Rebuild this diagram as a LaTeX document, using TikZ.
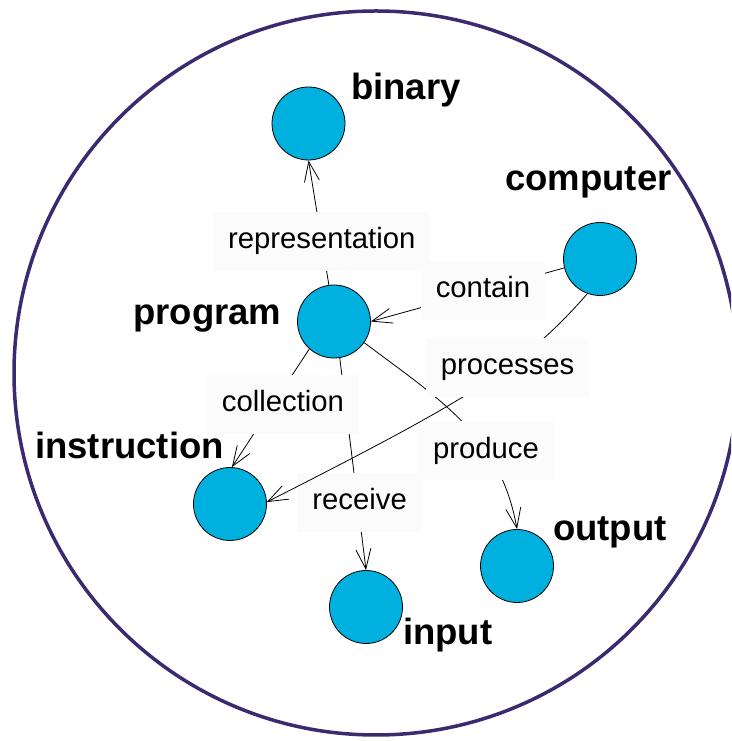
\documentclass[tikz,border=0pt]{standalone}
\usepackage{fontspec}
\setmainfont{Liberation Sans}
\usetikzlibrary{arrows.meta}
\definecolor{ringcol}{RGB}{59,42,112}
\definecolor{nodeblue}{RGB}{0,176,222}
\definecolor{lblfill}{RGB}{251,251,251}
\begin{document}
\begin{tikzpicture}[x=1pt,y=1pt,
  concept/.style={circle, draw=black, line width=0.8pt, fill=nodeblue, minimum size=73pt, inner sep=0pt},
  title/.style={anchor=base west, font=\fontsize{36.5}{44}\selectfont\bfseries, inner sep=0pt},
  lbl/.style={fill=lblfill, font=\fontsize{29.3}{34}\selectfont, text height=21pt, text depth=6pt, inner xsep=15pt, inner ysep=16pt},
  link/.style={line width=0.8pt, -{Straight Barb[length=20pt,width=15pt]}}]
\clip (0,0) rectangle (731,741);
\fill[white] (0,0) rectangle (731,741);
\draw[ringcol, line width=3.5pt] (376,368) circle[radius=362];

\node[concept] (binary) at (308.5,617.5) {};
\node[concept] (computer) at (600,482) {};
\node[concept] (program) at (334,419.5) {};
\node[concept] (instruction) at (230,237) {};
\node[concept] (input) at (366,134) {};
\node[concept] (output) at (517,175) {};

\draw[link] (program.98) -- node[lbl,pos=0.35] (l1) {representation} (binary.270);
\draw[link] (program.279) -- node[lbl,pos=0.68,xshift=2pt] (l2) {receive} (input.90);
\draw[link] (program.228) -- node[lbl,pos=0.47,xshift=10pt] (l3) {collection} (instruction.87);
\draw[link] (program.-35) to[out=-37,in=100] node[lbl,pos=0.66] (l4) {produce} (output.90);
\draw[link] (computer.194) -- node[lbl,pos=0.42] (l5) {contain} (program.0);
\draw[link] (computer.250) to[out=229,in=27,out distance=100pt,in distance=220pt] node[lbl,pos=0.38] (l6) {processes} (instruction.3);

\node[title] (tbinary) at (351,641) {binary};
\node[title] (tcomputer) at (505,550) {computer};
\node[title] (tprogram) at (133,416) {program};
\node[title] (tinstruction) at (35,282) {instruction};
\node[title] (toutput) at (553,200) {output};
\node[title] (tinput) at (403,96) {input};
\end{tikzpicture}
\end{document}
